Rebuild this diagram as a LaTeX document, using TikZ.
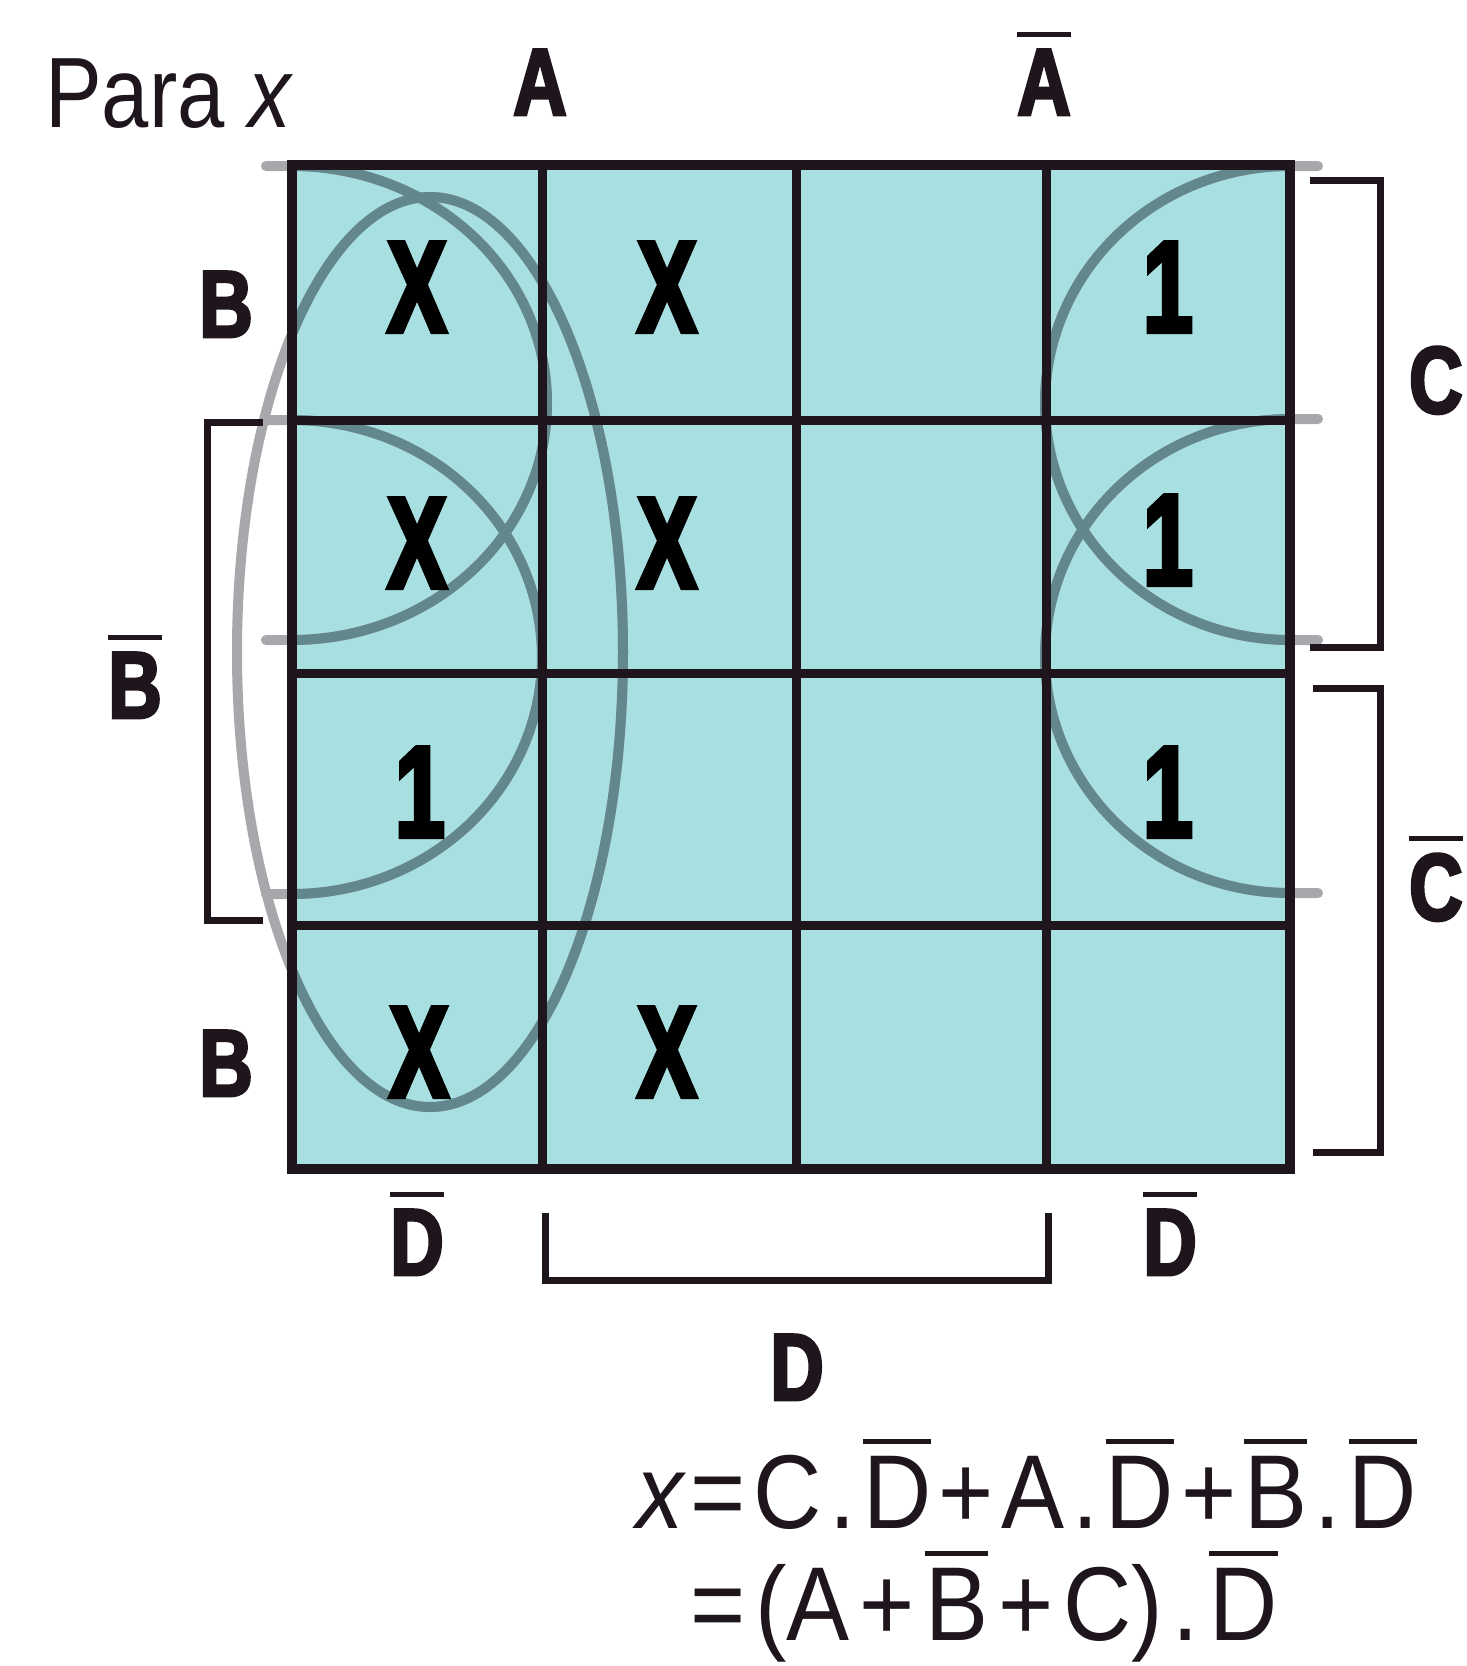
\documentclass[tikz,border=0pt]{standalone}
\usepackage{fontspec}
\setmainfont{Liberation Sans}
\newfontfamily\labfont[FakeStretch=0.78,FakeBold=3]{Liberation Sans Bold}
\newfontfamily\cellfont[FakeStretch=0.68,FakeBold=3.5]{Liberation Sans Bold}
\newfontfamily\txtfont[FakeStretch=0.85]{Liberation Sans}
\newfontfamily\eqfont[FakeStretch=0.9]{Liberation Sans}
\definecolor{kcyan}{RGB}{168,224,226}
\definecolor{kink}{RGB}{30,22,28}
\definecolor{kloopin}{RGB}{98,136,142}
\definecolor{kloopout}{RGB}{168,168,172}
\newcommand\ovl[1]{\vbox{\hrule height 5pt\kern 13pt\hbox{#1}}}
\newcommand\ovq[1]{\vbox{\hrule height 4.5pt\kern 12pt\hbox{#1}}}
\newcommand\eg{\kern 7.5pt}
\newcommand\egg{\kern 10pt}
\newcommand\kmaploops[1]{%
  \draw[#1] (430,652) ellipse [x radius=193pt, y radius=455pt];
  \draw[#1] (266,166) -- plot[smooth,domain=-90:90,samples=61] ({292+255*cos(\x)},{403+237*sin(\x)}) -- (266,640);
  \draw[#1] (266,420) -- plot[smooth,domain=-90:90,samples=61] ({292+250*cos(\x)},{657+237*sin(\x)}) -- (266,894);
  \draw[#1] (1318,166) -- plot[smooth,domain=-90:90,samples=61] ({1290-245*cos(\x)},{403+237*sin(\x)}) -- (1318,640);
  \draw[#1] (1318,419) -- plot[smooth,domain=-90:90,samples=61] ({1290-245*cos(\x)},{656+237*sin(\x)}) -- (1318,893);
}
\tikzset{
  loopline/.style={line width=10pt, line cap=round, line join=round},
  gridline/.style={line width=9pt, draw=kink},
  brk/.style={line width=7pt, draw=kink, line join=miter},
  lab/.style={font=\labfont\fontsize{95}{95}\selectfont, text=kink, inner sep=0pt},
  cellg/.style={font=\cellfont\fontsize{130}{130}\selectfont, text=black, inner sep=0pt},
  eqn/.style={font=\eqfont\fontsize{105}{105}\selectfont, text=kink, inner sep=0pt, anchor=base west},
  paratxt/.style={font=\txtfont\fontsize{100}{100}\selectfont, text=kink, inner sep=0pt, anchor=base west}
}
\begin{document}
\begin{tikzpicture}[x=1pt,y=-1pt]
\useasboundingbox (0,0) rectangle (1467,1666);
\fill[white] (0,0) rectangle (1467,1666);
\fill[kcyan] (292,165) rectangle (1290,1169);
% loops: light grey outside the map, teal grey on the cyan
\kmaploops{loopline, draw=kloopout}
\begin{scope}
  \clip (292,165) rectangle (1290,1169);
  \kmaploops{loopline, draw=kloopin}
\end{scope}
% grid
\foreach \gx in {542,796,1046} \draw[gridline] (\gx,165) -- (\gx,1169);
\foreach \gy in {420,673,925} \draw[gridline] (292,\gy) -- (1290,\gy);
\draw[gridline, line width=10pt] (292,165) rectangle (1290,1169);
% brackets
\draw[brk] (263,422) -- (207,422) -- (207,920) -- (263,920);
\draw[brk] (1310,180) -- (1380,180) -- (1380,647) -- (1310,647);
\draw[brk] (1313,688) -- (1380,688) -- (1380,1152) -- (1313,1152);
\draw[brk] (545,1213) -- (545,1280) -- (1048,1280) -- (1048,1213);
% title
\node[paratxt] (para) at (45,127) {Para {\itshape x}};
% labels
\node[lab, anchor=base] (lA) at (540,115) {A};
\node[lab, anchor=base] (lAn) at (1044,115) {\ovl{A}};
\node[lab, anchor=base] (lB1) at (226,337) {B};
\node[lab, anchor=base] (lBn) at (135,718) {\ovl{B}};
\node[lab, anchor=base] (lB2) at (226,1096) {B};
\node[lab, anchor=base west] (lC) at (1409,413) {C};
\node[lab, anchor=base west] (lCn) at (1409,920) {\ovl{C}};
\node[lab, anchor=base] (lDn1) at (417,1275) {\ovl{D}};
\node[lab, anchor=base] (lDn2) at (1170,1275) {\ovl{D}};
\node[lab, anchor=base] (lD) at (797,1400) {D};
% cells
\node[cellg] (c11) at (417,287) {X};
\node[cellg] (c12) at (667,287) {X};
\node[cellg] (c14) at (1168,287) {1};
\node[cellg] (c21) at (417,543) {X};
\node[cellg] (c22) at (667,543) {X};
\node[cellg] (c24) at (1168,540) {1};
\node[cellg] (c31) at (420,792) {1};
\node[cellg] (c34) at (1168,792) {1};
\node[cellg] (c41) at (419,1052) {X};
\node[cellg] (c42) at (667,1052) {X};
% equation
\node[eqn] (eq1) at (636,1528) {{\itshape x}\eg=\eg C\eg.\eg\ovq{D}\eg+\eg A\eg.\eg\ovq{D}\eg+\eg\ovq{B}\eg.\eg\ovq{D}};
\node[eqn] (eq2) at (690,1640) {=\egg(A\egg+\egg\ovq{B}\egg+\egg C)\egg.\egg\ovq{D}};
\end{tikzpicture}
\end{document}
